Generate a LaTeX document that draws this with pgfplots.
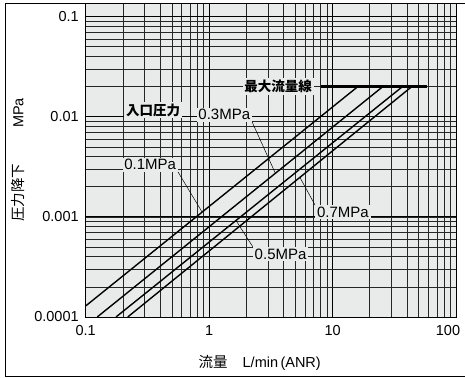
\documentclass[border=0pt]{standalone}
\usepackage{fontspec}
\setmainfont{Liberation Sans}
\newfontfamily\cjk{Noto Sans CJK JP}
\usepackage{pgfplots}
\pgfplotsset{compat=1.18}
\definecolor{bgc}{RGB}{233,234,234}
\begin{document}
\fontsize{14.5}{16}\selectfont
\begin{tikzpicture}
\begin{axis}[
  name=ax,
  xmode=log, ymode=log,
  scale only axis,
  width=370.3pt, height=314pt,
  xmin=0.1, xmax=100, ymin=0.0001, ymax=0.137,
  axis background/.style={fill=bgc},
  grid=both,
  major grid style={black, line width=0.8pt},
  minor grid style={black!85, line width=0.7pt},
  major tick length=0pt, minor tick length=0pt,
  xtick={0.1,1,10,100},
  xticklabels={0.1,1,10,{\kern-16pt 100}},
  ytick={0.0001,0.001,0.01,0.1},
  yticklabels={0.0001,0.001,0.01,0.1},
  axis line style={black, line width=0.8pt},
  xlabel={{\cjk 流量}\hspace{15pt}L/min\,(ANR)},
  ylabel={{\cjk 圧力降下}\hspace{36pt}MPa},
  xlabel style={at={(axis description cs:0.47,0)}, anchor=center, yshift=-46pt},
  ylabel style={at={(axis description cs:-0.1828,0.5)}, anchor=center},
  label style={font=\fontsize{14.5}{16}\selectfont},
  tick label style={font=\fontsize{14.5}{16}\selectfont},
  xticklabel style={yshift=-3pt},
  yticklabel style={xshift=-2pt},
  clip mode=individual,
]
\addplot[black, line width=1.4pt] coordinates {(0.1,0.000129) (16,0.02)};
\addplot[black, line width=1.4pt] coordinates {(0.124,0.0001) (25.5,0.02)};
\addplot[black, line width=1.4pt] coordinates {(0.176,0.0001) (36.8,0.02)};
\addplot[black, line width=1.4pt] coordinates {(0.219,0.0001) (43.8,0.02)};
\addplot[black, line width=2.6pt] coordinates {(8.0,0.02) (58,0.02)};

\tikzset{lab/.style={fill=bgc, inner sep=1.8pt, font=\fontsize{15}{16}\selectfont}}
\node[lab, font=\fontsize{13.5}{15}\selectfont\cjk\bfseries] at (axis cs:0.351,0.0117) {入口圧力};
\node[lab, font=\fontsize{13.5}{15}\selectfont\cjk\bfseries] at (axis cs:3.62,0.0201) {最大流量線};
\node[lab, anchor=south east] (l1) at (axis cs:0.560,0.00281) {0.1MPa};
\draw[black, line width=0.5pt] (l1.south east) -- (axis cs:0.876,0.00112);
\node[lab, anchor=south east] (l3) at (axis cs:2.23,0.00888) {0.3MPa};
\draw[black, line width=0.5pt] (l3.south east) -- (axis cs:3.43,0.00275);
\node[lab, anchor=north west] (l7) at (axis cs:7.21,0.001315) {0.7MPa};
\draw[black, line width=0.5pt] (l7.north west) -- (axis cs:5.42,0.0025);
\node[lab, anchor=north west] (l5) at (axis cs:2.256,0.000504) {0.5MPa};
\draw[black, line width=0.5pt] (l5.north west) -- (axis cs:1.646,0.000925);
\end{axis}
\draw[line width=0.8pt] ([xshift=9pt]ax.north east) -- ([xshift=-80.7pt]ax.north west) -- ([xshift=-80.7pt,yshift=-59.7pt]ax.south west) -- ([xshift=9pt,yshift=-59.7pt]ax.south east);
\pgfresetboundingbox
\useasboundingbox ([xshift=-85.7pt,yshift=-60pt]ax.south west) rectangle ([xshift=9pt,yshift=3pt]ax.north east);
\end{tikzpicture}
\end{document}
